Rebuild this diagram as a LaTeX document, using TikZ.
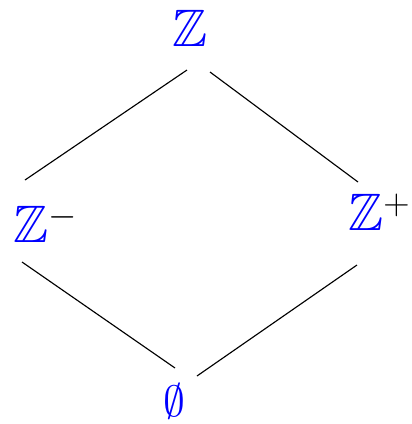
\documentclass[tikz,border=0pt]{standalone}
\usepackage{amssymb}
\begin{document}
\begin{tikzpicture}[x=0.02cm,y=-0.02cm,
  setnode/.style={inner sep=0pt,font=\fontsize{30}{36}\selectfont},
  edge/.style={line width=0.65pt,black}]
\useasboundingbox (0,0) rectangle (412,424);
\node[setnode,anchor=center] (top) at (190,28) {$\color{blue}\mathbb{Z}$};
\node[setnode,anchor=base west] (left) at (13,242) {$\color{blue}\mathbb{Z}\color{black}^{-}$};
\node[setnode,anchor=base west] (right) at (348,230) {$\color{blue}\mathbb{Z}\color{black}^{+}$};
\node[setnode,anchor=center] (bot) at (174,401) {$\color{blue}\emptyset$};
\coordinate (t1) at (187,70);
\coordinate (l1) at (25,180);
\coordinate (t2) at (210,72);
\coordinate (r1) at (358,182);
\coordinate (l2) at (22,262);
\coordinate (b1) at (175,368);
\coordinate (b2) at (197,376);
\coordinate (r2) at (357,265);
\draw[edge] (t1) -- (l1);
\draw[edge] (t2) -- (r1);
\draw[edge] (l2) -- (b1);
\draw[edge] (b2) -- (r2);
\end{tikzpicture}
\end{document}
